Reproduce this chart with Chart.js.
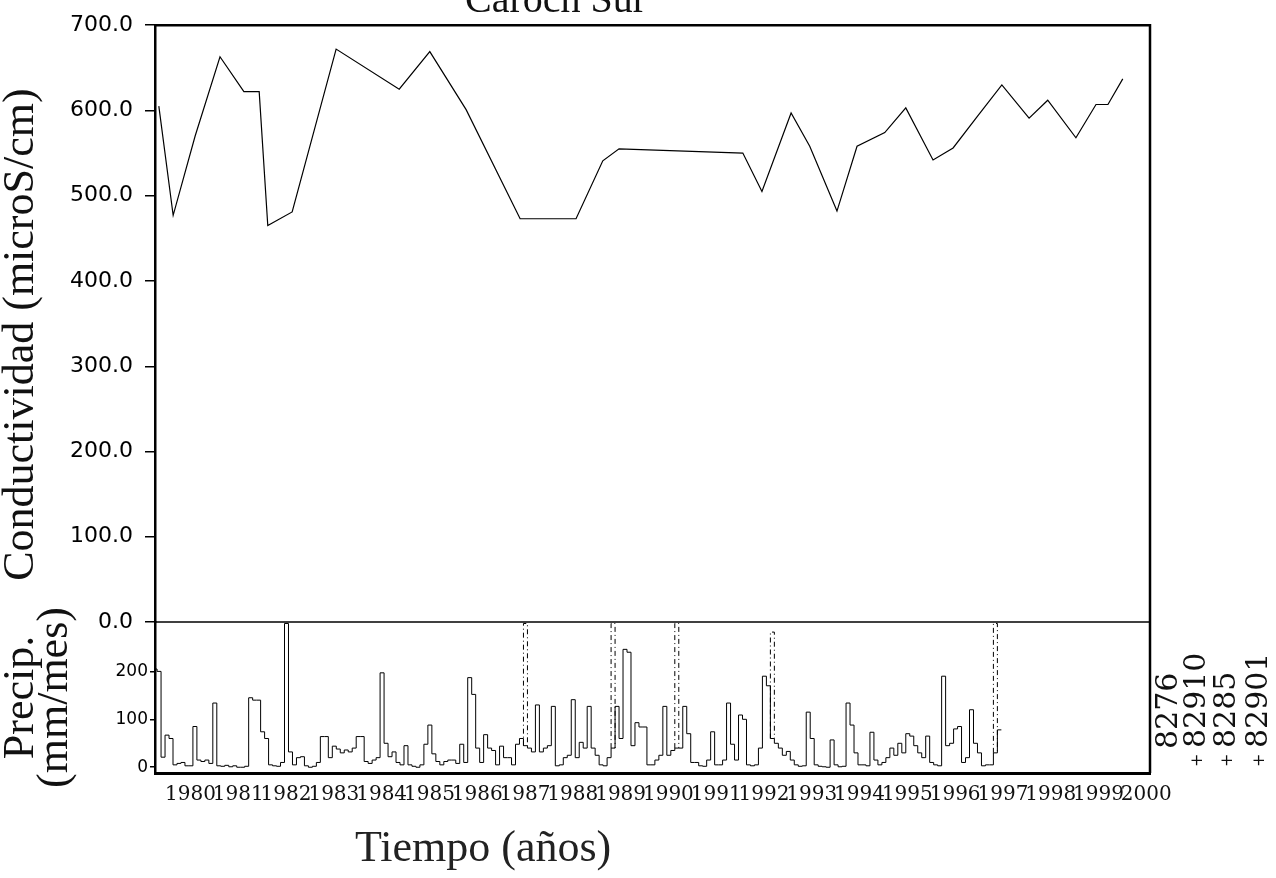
<!DOCTYPE html>
<html>
<head>
<meta charset="utf-8">
<script src="https://cdn.jsdelivr.net/npm/chart.js@4.4.1/dist/chart.umd.min.js"></script>
<style>
    html, body { margin: 0; padding: 0; background: #fff; }
    #wrap { position: relative; width: 1276px; height: 878px; overflow: hidden; }
    #myChart { position: absolute; left: 0; top: 0; }
    .txt { position: absolute; font-family: 'DejaVu Serif', serif; color: #111; white-space: nowrap; line-height: 1; }
    .leg { font-size: 30px; transform-origin: 0 0; transform: rotate(-90deg); }
    .mk { font-size: 16px; display: inline-block; width: 19px; text-align: left; vertical-align: 3px; }
</style>
</head>
<body>
<div id="wrap">
    <canvas id="myChart" width="1276" height="878"></canvas>
    <div class="txt" style="left:465px; top:-21px; font-size:40px; font-family:'Liberation Serif', serif;">Caroch Sur</div>
    <div class="txt" style="left:355px; top:825px; font-size:44px; font-family:'Liberation Serif', serif; color:#222;">Tiempo (años)</div>
    <div class="txt leg" style="left:1152px; top:749px;">8276</div>
    <div class="txt leg" style="left:1180px; top:767px;"><span class="mk">+</span>82910</div>
    <div class="txt leg" style="left:1210px; top:767px;"><span class="mk">+</span>8285</div>
    <div class="txt leg" style="left:1242px; top:767px;"><span class="mk">+</span>82901</div>
</div>

<script>
// --- A. ---
const yearTicks = [1980, 1981, 1982, 1983, 1984, 1985, 1986, 1987, 1988, 1989, 1990,
                   1991, 1992, 1993, 1994, 1995, 1996, 1997, 1998, 1999, 2000];
const condTicks = [0, 100, 200, 300, 400, 500, 600, 700];
const precipTicks = [0, 100, 200];

// conductivity samples (roughly every six months)
const condYears = [1979.87, 1980.17, 1980.63, 1981.15, 1981.65, 1981.97, 1982.15, 1982.66,
                   1983.58, 1984.90, 1985.54, 1986.30, 1987.43, 1988.60, 1989.16, 1989.50,
                   1992.09, 1992.49, 1993.10, 1993.49, 1994.06, 1994.48, 1995.06, 1995.50,
                   1996.07, 1996.49, 1997.01, 1997.51, 1998.08, 1998.47, 1999.06, 1999.48,
                   1999.73, 2000.04];
const condValues = [605, 477, 570, 663, 622, 622, 465, 481,
                    672, 625, 669, 601, 473, 473, 541, 555,
                    550, 505, 597, 558, 482, 558, 574, 603,
                    542, 556, 594, 630, 591, 612, 568, 607,
                    607, 637];

// monthly precipitation, first month = Oct 1979
const precipStart = 1979.75;
const precip8276 = [
    205, 200, 21, 67, 60, 5, 8, 10, 3, 3, 85, 15,
    12, 15, 8, 134, 3, 2, 4, 1, 3, 0, 0, 2,
    145, 140, 140, 74, 60, 5, 3, 2, 10, 300, 32, 5,
    20, 22, 3, 0, 2, 10, 64, 64, 20, 44, 38, 30,
    36, 32, 40, 64, 64, 12, 8, 15, 20, 197, 50, 22,
    32, 10, 5, 45, 5, 2, 0, 5, 48, 88, 28, 12,
    5, 12, 15, 15, 8, 48, 10, 187, 152, 40, 10, 68,
    40, 35, 5, 44, 20, 20, 5, 48, 60, 45, 40, 32,
    130, 32, 40, 45, 127, 3, 5, 20, 25, 141, 20, 52,
    40, 127, 40, 25, 5, 3, 20, 40, 127, 60, 246, 240,
    45, 93, 84, 84, 5, 5, 15, 25, 127, 25, 35, 40,
    40, 127, 70, 10, 10, 3, 2, 15, 74, 5, 5, 15,
    134, 48, 15, 109, 100, 5, 3, 5, 40, 190, 170, 60,
    50, 40, 25, 33, 15, 5, 2, 3, 115, 60, 5, 2,
    1, 0, 57, 5, 1, 2, 134, 88, 30, 5, 5, 3,
    73, 15, 5, 10, 20, 40, 25, 50, 30, 70, 65, 45,
    30, 20, 65, 10, 5, 3, 190, 45, 50, 80, 85, 10,
    20, 120, 50, 30, 3, 5, 5, 30, 78
];

// the tall dashed spikes of the second station (month index from precipStart)
const spikeMonths = [93, 115, 131, 155, 211];
const spikeValues = [300, 300, 300, 282, 300];

// --- B. Build the point lists ---
const condPoints = condYears.map((yr, i) => ({ x: yr, y: condValues[i] }));

const precipPoints = precip8276.map((v, i) => ({ x: precipStart + i / 12, y: v }));
// close the last month
precipPoints.push({ x: precipStart + precip8276.length / 12, y: precip8276[precip8276.length - 1] });

const spikePoints = [];
spikeMonths.forEach((m, i) => {
    const t0 = precipStart + m / 12;
    const t1 = precipStart + (m + 1) / 12;
    const base = precip8276[m];
    spikePoints.push({ x: t0, y: base }, { x: t0, y: spikeValues[i] },
                     { x: t1, y: spikeValues[i] }, { x: t1, y: base }, { x: t1, y: null });
});

// --- C. Frame: top / right border and the panel divider ---
const framePlugin = {
    id: 'frame',
    afterDraw(chart) {
        const { ctx, chartArea: a } = chart;
        const yC = chart.scales.yC;
        ctx.save();
        ctx.strokeStyle = '#000';
        ctx.lineWidth = 2.5;
        ctx.beginPath();
        ctx.moveTo(a.left, a.top);
        ctx.lineTo(a.right, a.top);
        ctx.lineTo(a.right, a.bottom);
        ctx.stroke();
        ctx.lineWidth = 1.5;
        ctx.beginPath();
        ctx.moveTo(a.left, yC.bottom);
        ctx.lineTo(a.right, yC.bottom);
        ctx.stroke();
        ctx.restore();
    }
};

const titleFont = { family: 'Liberation Serif', size: 44, lineHeight: 0.76 };

// --- D. Chart ---
new Chart(document.getElementById('myChart'), {
    type: 'line',
    data: {
        datasets: [
            {
                label: 'Conductividad',
                data: condPoints,
                yAxisID: 'yC',
                borderColor: '#000',
                borderWidth: 1.2,
                pointRadius: 0,
                tension: 0
            },
            {
                label: '8276',
                data: precipPoints,
                yAxisID: 'yP',
                stepped: 'before',
                borderColor: '#000',
                borderWidth: 1,
                pointRadius: 0
            },
            {
                label: '82910',
                data: spikePoints,
                yAxisID: 'yP',
                borderColor: '#000',
                borderWidth: 1,
                borderDash: [5, 3, 1, 3],
                pointRadius: 0,
                spanGaps: false
            }
        ]
    },
    options: {
        responsive: false,
        animation: false,
        devicePixelRatio: 1,
        layout: { padding: { top: 25, right: 126, bottom: 0, left: 0 } },
        plugins: {
            legend: { display: false },
            tooltip: { enabled: false }
        },
        scales: {
            x: {
                type: 'linear',
                min: 1979.79,
                max: 2000.61,
                afterBuildTicks: s => { s.ticks = yearTicks.map(v => ({ value: v })); },
                afterFit: s => { s.height = 105; },
                grid: { display: false, drawTicks: false },
                border: { display: true, width: 3, color: '#000' },
                ticks: {
                    align: 'start',
                    autoSkip: false,
                    maxRotation: 0,
                    padding: 10,
                    color: '#111',
                    font: { family: 'DejaVu Serif', size: 20 },
                    callback: v => String(v)
                }
            },
            yP: {
                type: 'linear',
                position: 'left',
                stack: 'panels',
                stackWeight: 151,
                min: -12,
                max: 303,
                afterBuildTicks: s => { s.ticks = precipTicks.map(v => ({ value: v })); },
                afterFit: s => { s.width = 155; },
                grid: { display: true, drawOnChartArea: false, drawTicks: true, tickLength: 5, color: '#000', lineWidth: 1.5 },
                border: { display: true, width: 2.5, color: '#000' },
                ticks: {
                    padding: 2,
                    color: '#000',
                    font: { family: 'DejaVu Sans', size: 17 }
                },
                title: {
                    display: true,
                    text: ['Precip.', '(mm/mes)'],
                    color: '#111',
                    font: titleFont,
                    padding: { top: 5, bottom: 0 }
                }
            },
            yC: {
                type: 'linear',
                position: 'left',
                stack: 'panels',
                stackWeight: 597,
                min: 0,
                max: 700,
                afterBuildTicks: s => { s.ticks = condTicks.map(v => ({ value: v })); },
                afterFit: s => { s.width = 155; },
                grid: { display: true, drawOnChartArea: false, drawTicks: true, tickLength: 10, color: '#000', lineWidth: 1.5 },
                border: { display: true, width: 2.5, color: '#000' },
                ticks: {
                    padding: 12,
                    color: '#000',
                    font: { family: 'DejaVu Sans', size: 22 },
                    callback: v => Number(v).toFixed(1)
                },
                title: {
                    display: true,
                    text: 'Conductividad (microS/cm)  ',
                    color: '#111',
                    font: titleFont,
                    padding: { top: 5, bottom: 0 }
                }
            }
        }
    },
    plugins: [framePlugin]
});
</script>
</body>
</html>
